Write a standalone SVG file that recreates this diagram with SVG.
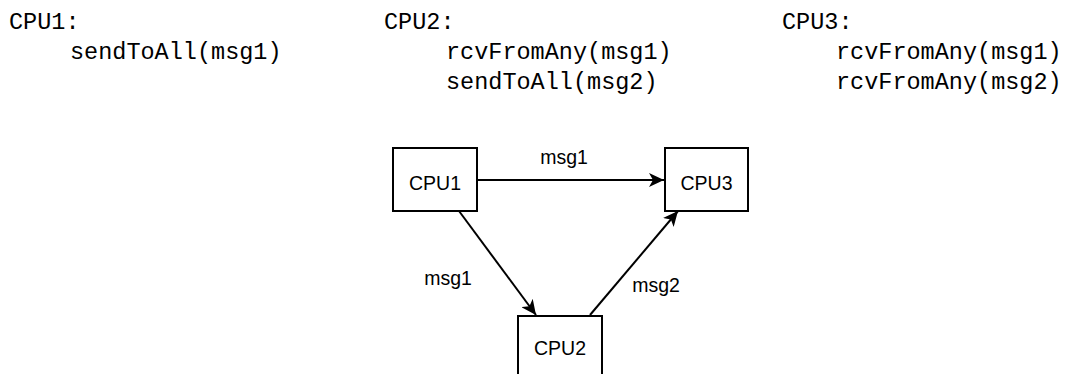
<svg xmlns="http://www.w3.org/2000/svg" width="1070" height="374" viewBox="0 0 1070 374">
<style>
.code{font-family:"Liberation Mono","DejaVu Sans Mono",monospace;font-size:23.5px;fill:#000}
.box{fill:#fff;stroke:#000;stroke-width:2}
.lbl{font-family:"Liberation Sans",Arial,sans-serif;font-size:19.5px;fill:#000;text-anchor:middle}
.edge{fill:none;stroke:#000;stroke-width:2}
</style>
<defs>
<marker id="arr" markerUnits="userSpaceOnUse" markerWidth="16" markerHeight="14" refX="15" refY="7" orient="auto">
<path d="M0,0 L15,7 L0,14 L4,7 Z" fill="#000"/>
</marker>
</defs>
<rect width="1070" height="374" fill="#fff"/>
<g id="code">
<text class="code" x="9" y="29">CPU1:</text>
<text class="code" x="70" y="59">sendToAll(msg1)</text>
<text class="code" x="384" y="29">CPU2:</text>
<text class="code" x="446" y="59">rcvFromAny(msg1)</text>
<text class="code" x="446" y="89">sendToAll(msg2)</text>
<text class="code" x="782" y="29">CPU3:</text>
<text class="code" x="836" y="59">rcvFromAny(msg1)</text>
<text class="code" x="836" y="89">rcvFromAny(msg2)</text>
</g>
<g id="connectors">
<line class="edge" x1="477" y1="180" x2="664" y2="180" marker-end="url(#arr)"/>
<line class="edge" x1="459" y1="211" x2="536" y2="315" marker-end="url(#arr)"/>
<line class="edge" x1="590" y1="315" x2="678" y2="211" marker-end="url(#arr)"/>
<text class="lbl" x="564" y="164">msg1</text>
<text class="lbl" x="448" y="285">msg1</text>
<text class="lbl" x="656" y="292">msg2</text>
</g>
<g id="cpu1">
<rect class="box" x="393" y="148" width="84" height="63"/>
<text class="lbl" x="435" y="190">CPU1</text>
</g>
<g id="cpu3">
<rect class="box" x="665" y="148" width="83" height="63"/>
<text class="lbl" x="706.5" y="190">CPU3</text>
</g>
<g id="cpu2">
<rect class="box" x="518" y="316" width="84" height="64"/>
<text class="lbl" x="560" y="355">CPU2</text>
</g>
</svg>
